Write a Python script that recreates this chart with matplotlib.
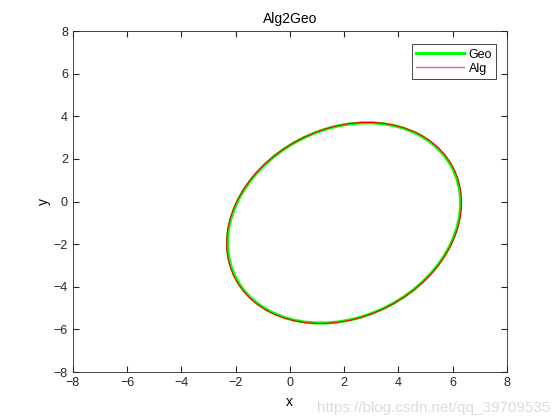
import matplotlib
matplotlib.use('Agg')
import matplotlib.pyplot as plt
from matplotlib.patches import Ellipse
from matplotlib.lines import Line2D

plt.rcParams['font.family'] = ['Liberation Sans', 'DejaVu Sans']

# 기하학적 타원 파라미터 (중심, 전체 폭/높이, 회전각)
geo_center = (2.0, -1.0)
geo_width = 9.94
geo_height = 7.96
geo_angle = 57.0

alg_center = (2.0, -1.0)
alg_width = 10.0
alg_height = 8.0
alg_angle = 56.5

ticks = [-8, -6, -4, -2, 0, 2, 4, 6, 8]

fig = plt.figure(figsize=(5.6, 4.2), dpi=100)
ax = fig.add_axes([0.130, 0.114, 0.775, 0.812])

ax.add_patch(Ellipse(geo_center, geo_width, geo_height, angle=geo_angle,
                     fill=False, edgecolor='#00ff00', lw=2.2))
ax.add_patch(Ellipse(alg_center, alg_width, alg_height, angle=alg_angle,
                     fill=False, edgecolor='#ff0000', lw=0.8))

ax.set_xlim(-8, 8)
ax.set_ylim(-8, 8)
ax.set_xticks(ticks)
ax.set_yticks(ticks)
ax.tick_params(direction='in', length=4, labelsize=9, top=True, right=True,
               labeltop=False, labelright=False, colors='#262626')
for s in ax.spines.values():
    s.set_color('#262626')
    s.set_linewidth(0.6)

ax.set_title('Alg2Geo', fontsize=10)
ax.set_xlabel('x', fontsize=10, labelpad=4)
ax.set_ylabel('y', fontsize=10, labelpad=2)

handles = [Line2D([], [], color='#00ff00', lw=2.2),
           Line2D([], [], color='#ff6060', lw=1.0)]
leg = ax.legend(handles, ['Geo', 'Alg'], loc='upper right', fontsize=9,
                fancybox=False, edgecolor='#262626', framealpha=1,
                handlelength=3.8, handletextpad=0.4, borderpad=0.35,
                labelspacing=0.15, borderaxespad=0, bbox_to_anchor=(0.976, 0.961))
leg.get_frame().set_linewidth(0.6)

fig.text(0.982, 0.012, 'https://blog.csdn.net/qq_39709535', ha='right',
         va='bottom', fontsize=11, color='#dcdcdc')

fig.savefig('out.png', dpi=100)
